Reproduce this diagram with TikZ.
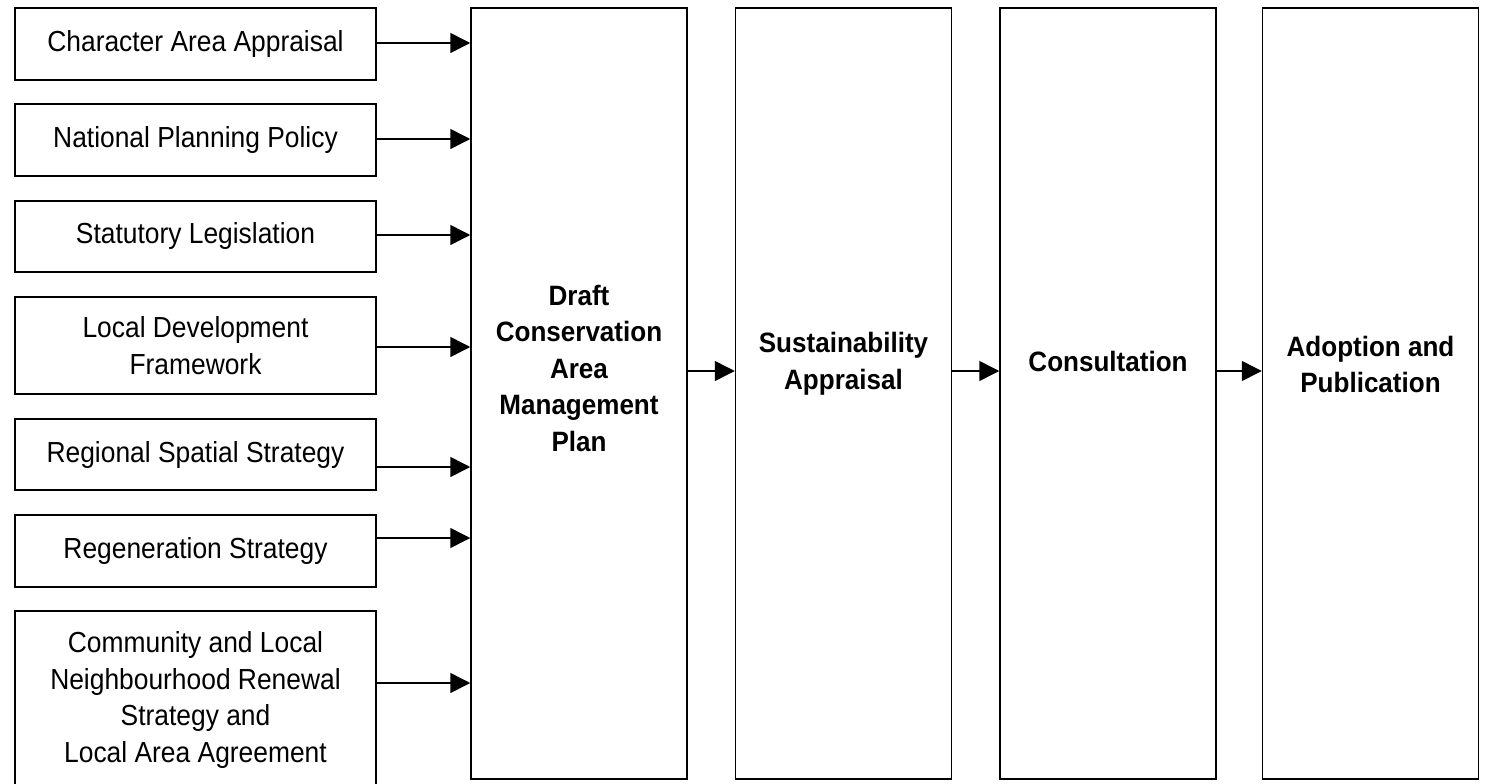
\documentclass[tikz,border=0pt]{standalone}
\usepackage{fontspec}
\setmainfont{Liberation Sans}[FakeStretch=0.91, BoldFeatures={FakeStretch=0.93}]
\usetikzlibrary{arrows.meta}
\begin{document}
\begin{tikzpicture}[x=1pt,y=-1pt,
  inbox/.style={draw, line width=1.5pt, align=center, inner sep=0pt, minimum width=361pt, font=\fontsize{29}{36.5}\selectfont},
  bigbox/.style={draw, line width=1.5pt, inner sep=0pt, minimum width=216pt, minimum height=771pt},
  bigtext/.style={align=center, inner sep=0pt, font=\fontsize{28}{36.5}\selectfont\bfseries},
  feed/.style={line width=1.5pt, -{Triangle[length=20pt,width=20pt]}}]
\useasboundingbox (0,0) rectangle (1488,784);
\clip (0,0) rectangle (1488,784);
% big boxes
\node[bigbox] (draft) at (579,393.5) {};
\node[bigbox] (sust) at (843.5,393.5) {};
\node[bigbox] (cons) at (1108,393.5) {};
\node[bigbox] (adopt) at (1370.5,393.5) {};
\node[bigtext] (tdraft) at (579,368) {Draft\\Conservation\\Area\\Management\\Plan};
\node[bigtext] (tsust) at (843.5,364) {Sustainability\\Appraisal};
\node[bigtext] (tcons) at (1108,361) {Consultation};
\node[bigtext] (tadopt) at (1370.5,364.5) {Adoption and\\Publication};
% left boxes
\node[inbox, minimum height=72pt] (b1) at (195.5,44) {Character Area Appraisal};
\node[inbox, minimum height=72pt] (b2) at (195.5,140) {National Planning Policy};
\node[inbox, minimum height=71pt] (b3) at (195.5,236.5) {Statutory Legislation};
\node[inbox, minimum height=97pt] (b4) at (195.5,345.5) {Local Development\\Framework};
\node[inbox, minimum height=71pt] (b5) at (195.5,454.5) {Regional Spatial Strategy};
\node[inbox, minimum height=72pt] (b6) at (195.5,551) {Regeneration Strategy};
\node[inbox, minimum height=178pt] (b7) at (195.5,700) {Community and Local\\Neighbourhood Renewal\\Strategy and\\Local Area Agreement};
% feeding arrows
\draw[feed] (b1.east |- 0,43) -- (draft.west |- 0,43);
\draw[feed] (b2.east |- 0,139) -- (draft.west |- 0,139);
\draw[feed] (b3.east |- 0,235) -- (draft.west |- 0,235);
\draw[feed] (b4.east |- 0,347) -- (draft.west |- 0,347);
\draw[feed] (b5.east |- 0,467) -- (draft.west |- 0,467);
\draw[feed] (b6.east |- 0,538) -- (draft.west |- 0,538);
\draw[feed] (b7.east |- 0,683) -- (draft.west |- 0,683);
% main flow
\draw[feed] (draft.east |- 0,371) -- (sust.west |- 0,371);
\draw[feed] (sust.east |- 0,371) -- (cons.west |- 0,371);
\draw[feed] (cons.east |- 0,371) -- (adopt.west |- 0,371);
\end{tikzpicture}
\end{document}
